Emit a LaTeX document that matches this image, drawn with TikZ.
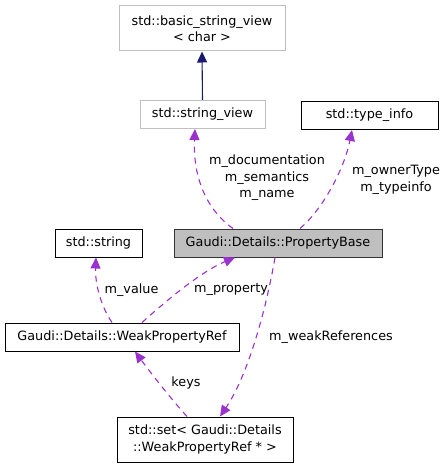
\documentclass[tikz,border=0pt]{standalone}
\usepackage{fontspec}
\setmainfont{DejaVu Sans}
\usetikzlibrary{arrows.meta}
\definecolor{edgepurple}{HTML}{9A32CD}
\definecolor{edgenavy}{HTML}{191970}
\definecolor{boxgray}{HTML}{BFBFBF}
\begin{document}
\begin{tikzpicture}[x=1pt,y=-1pt,
    font=\fontsize{12.8}{16.5}\selectfont,
    cls/.style={draw=black,line width=1pt,inner sep=0pt,align=center,minimum height=28pt},
    ext/.style={cls,draw=boxgray},
    current/.style={cls,fill=boxgray,draw=black!80},
    member/.style={draw=edgepurple,line width=1.1pt,dash pattern=on 6pt off 5pt,
      -{Triangle[length=11pt,width=10pt]}},
    inherit/.style={draw=edgenavy,line width=1.1pt,-{Triangle[length=11pt,width=10pt]}},
    lbl/.style={align=center,inner sep=0pt},
  ]
  \useasboundingbox (0,0) rectangle (447,468);

  % classes
  \node[ext,minimum width=166pt,minimum height=45pt] (bsv) at (202,28.5) {std::basic\_string\_view\\{<} char {>}};
  \node[ext,minimum width=125pt] (sv) at (202.5,114.5) {std::string\_view};
  \node[cls,minimum width=137pt] (ti) at (369.5,115.5) {std::type\_info};
  \node[current,minimum width=208pt] (pb) at (278,243) {Gaudi::Details::PropertyBase};
  \node[cls,minimum width=87pt] (str) at (98.5,243) {std::string};
  \node[cls,minimum width=234pt] (wpr) at (122,337) {Gaudi::Details::WeakPropertyRef};
  \node[cls,minimum width=176pt,minimum height=45pt] (set) at (205,439.5) {std::set{<} Gaudi::Details\\::WeakPropertyRef * {>}};

  % relations
  \draw[inherit] (sv.north) -- (bsv.south);
  \draw[member] ([xshift=-45pt]pb.north) .. controls (203,207) and (193,172) .. ([xshift=-7.5pt]sv.south);
  \draw[member] ([xshift=22pt]pb.north) .. controls (322,210) and (344,170) .. ([xshift=-17.5pt]ti.south);
  \draw[member] ([xshift=-10pt]wpr.north) .. controls (100,305) and (95,282) .. ([xshift=-2.5pt]str.south);
  \draw[member] ([xshift=20pt]wpr.north) .. controls (165,302) and (200,272) .. ([xshift=-43pt]pb.south);
  \draw[member] ([xshift=-18pt]set.north) .. controls (172,400) and (150,372) .. ([xshift=13pt]wpr.south);
  \draw[member] ([xshift=-3pt]pb.south) .. controls (266,310) and (248,375) .. ([xshift=15pt]set.north);

  % labels
  \node[lbl] (lsv) at (267,178) {m\_documentation\\m\_semantics\\m\_name};
  \node[lbl] (lti) at (396,180) {m\_ownerType\\m\_typeinfo};
  \node[lbl] (lval) at (131.5,290) {m\_value};
  \node[lbl] (lprop) at (231,290) {m\_property};
  \node[lbl] (lweak) at (331,337) {m\_weakReferences};
  \node[lbl] (lkeys) at (186,383) {keys};
\end{tikzpicture}
\end{document}
